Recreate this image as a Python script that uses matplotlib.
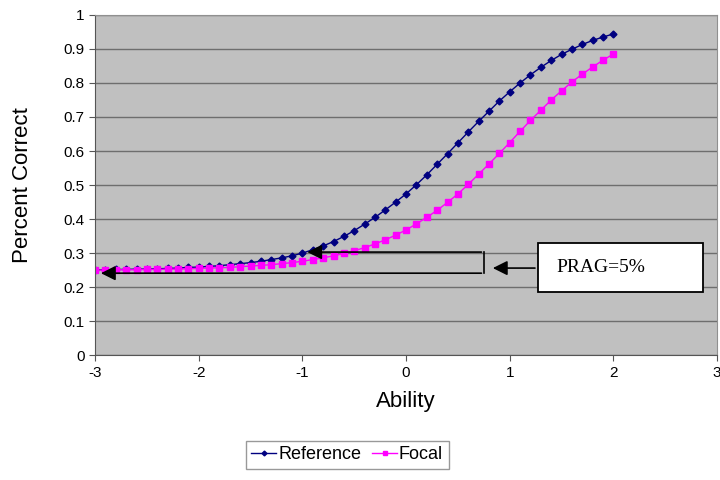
import matplotlib.pyplot as plt
import matplotlib.patches as mpatches
import numpy as np

plt.rcParams['font.family'] = ['Liberation Sans', 'DejaVu Sans']
plt.rcParams['axes.unicode_minus'] = False

# ability points -3.0 .. 2.0 step 0.1
ability = [round(-3.0 + 0.1 * i, 1) for i in range(51)]

reference = [0.251, 0.251, 0.252, 0.252, 0.253, 0.253, 0.254, 0.255, 0.256, 0.258,
             0.259, 0.261, 0.263, 0.266, 0.269, 0.272, 0.276, 0.281, 0.286, 0.292,
             0.300, 0.310, 0.321, 0.334, 0.349, 0.366, 0.385, 0.405, 0.427, 0.450,
             0.474, 0.501, 0.530, 0.561, 0.592, 0.624, 0.656, 0.687, 0.717, 0.747,
             0.774, 0.800, 0.824, 0.846, 0.866, 0.884, 0.899, 0.913, 0.925, 0.935,
             0.944]

focal = [0.250, 0.250, 0.251, 0.251, 0.251, 0.252, 0.252, 0.253, 0.253, 0.254,
         0.255, 0.256, 0.257, 0.258, 0.260, 0.262, 0.264, 0.266, 0.269, 0.272,
         0.276, 0.281, 0.286, 0.292, 0.299, 0.307, 0.316, 0.327, 0.339, 0.353,
         0.368, 0.386, 0.405, 0.426, 0.449, 0.474, 0.502, 0.532, 0.562, 0.593,
         0.625, 0.658, 0.690, 0.720, 0.750, 0.777, 0.803, 0.826, 0.847, 0.867,
         0.885]

fig = plt.figure(figsize=(7.2, 4.8), dpi=100)
ax = fig.add_axes([0.132, 0.26, 0.864, 0.709])
ax.set_facecolor('#c0c0c0')

ax.plot(ability, reference, color='#000080', marker='D', markersize=3.5,
        linewidth=1, label='Reference')
ax.plot(ability, focal, color='#ff00ff', marker='s', markersize=4.5,
        linewidth=1, label='Focal')

ax.set_xlim(-3, 3)
ax.set_ylim(0, 1)
ax.set_xticks(np.arange(-3, 4, 1))
ax.set_yticks(np.arange(0, 1.01, 0.1))
ax.set_yticklabels(['0', '0.1', '0.2', '0.3', '0.4', '0.5', '0.6', '0.7', '0.8', '0.9', '1'])
ax.yaxis.grid(True, color='#6e6e6e', linewidth=1)
ax.set_axisbelow(True)
ax.tick_params(labelsize=11, direction='out', length=4, color='#555555')
for s in ['top', 'right']:
    ax.spines[s].set_color('#909090')
for s in ['left', 'bottom']:
    ax.spines[s].set_color('#555555')

ax.set_xlabel('Ability', fontsize=16, labelpad=8)
ax.set_ylabel('Percent Correct', fontsize=16, labelpad=22)

# bracket with arrows
arrow = dict(arrowstyle='-|>', color='black', lw=1.2, mutation_scale=22)
ax.annotate('', xy=(-0.98, 0.303), xytext=(0.754, 0.303), arrowprops=arrow)
ax.annotate('', xy=(-2.97, 0.241), xytext=(0.754, 0.241), arrowprops=arrow)
ax.plot([0.754, 0.754], [0.241, 0.303], color='black', lw=1.2)

# PRAG box
ax.add_patch(mpatches.Rectangle((1.27, 0.185), 1.59, 0.144, facecolor='white',
                                edgecolor='black', lw=1.3, zorder=5))
ax.text(1.45, 0.257, 'PRAG=5%', family='Liberation Serif', fontsize=14,
        va='center', ha='left', zorder=6)
ax.annotate('', xy=(0.81, 0.256), xytext=(1.27, 0.256), arrowprops=arrow)

ax.legend(loc='upper center', bbox_to_anchor=(0.482, 0.1), bbox_transform=fig.transFigure,
          ncol=2, fontsize=13, frameon=True, fancybox=False, edgecolor='#808080',
          handlelength=1.4, handletextpad=0.1, columnspacing=0.6, borderpad=0.3,
          markerscale=0.7)

plt.savefig('out.png', dpi=100)
